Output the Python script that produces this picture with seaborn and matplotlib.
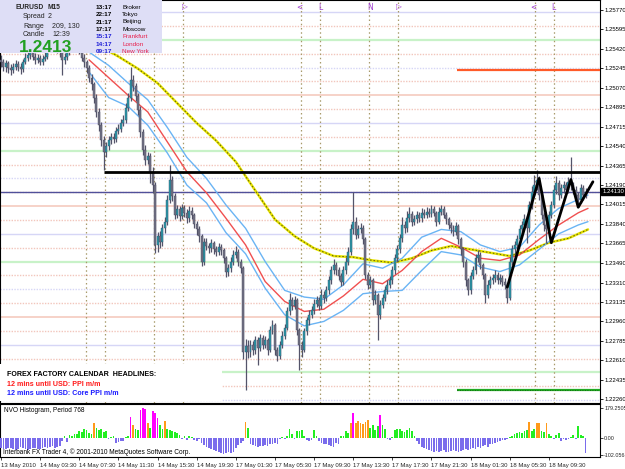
import numpy as np
import pandas as pd
import seaborn as sns
import matplotlib.pyplot as plt
from matplotlib import font_manager
from matplotlib.patches import Rectangle
from matplotlib.transforms import blended_transform_factory

# ---- price data (EURUSD M15, bar 0 = 13 May 23:30) ----
FIRST_OPEN = 1.2532
CLOSE = [
    1.2530, 1.2526, 1.2529, 1.2525, 1.2523, 1.2526, 1.2528, 1.2526, 1.2524, 1.2530, 1.2534, 1.2536, 1.2539, 1.2535, 1.2532, 1.2534,
    1.2530, 1.2533, 1.2535, 1.2541, 1.2545, 1.2546, 1.2544, 1.2541, 1.2539, 1.2532, 1.2535, 1.2539, 1.2543, 1.2545, 1.2546, 1.2544,
    1.2541, 1.2534, 1.2530, 1.2525, 1.2516, 1.2510, 1.2498, 1.2485, 1.2473, 1.2460, 1.2449, 1.2454, 1.2460, 1.2462, 1.2461, 1.2468,
    1.2470, 1.2475, 1.2478, 1.2489, 1.2498, 1.2514, 1.2508, 1.2499, 1.2487, 1.2467, 1.2451, 1.2442, 1.2445, 1.2431, 1.2419, 1.2365,
    1.2373, 1.2368, 1.2380, 1.2386, 1.2406, 1.2424, 1.2409, 1.2392, 1.2397, 1.2391, 1.2398, 1.2394, 1.2389, 1.2396, 1.2392, 1.2384,
    1.2379, 1.2373, 1.2350, 1.2368, 1.2364, 1.2362, 1.2367, 1.2361, 1.2359, 1.2363, 1.2360, 1.2353, 1.2341, 1.2344, 1.2350, 1.2356,
    1.2359, 1.2350, 1.2344, 1.2268, 1.2274, 1.2268, 1.2275, 1.2270, 1.2279, 1.2272, 1.2281, 1.2275, 1.2279, 1.2270, 1.2288, 1.2293,
    1.2270, 1.2265, 1.2275, 1.2283, 1.2290, 1.2305, 1.2315, 1.2310, 1.2315, 1.2288, 1.2275, 1.2270, 1.2287, 1.2297, 1.2302, 1.2306,
    1.2312, 1.2315, 1.2310, 1.2320, 1.2317, 1.2324, 1.2333, 1.2342, 1.2347, 1.2342, 1.2337, 1.2332, 1.2342, 1.2350, 1.2359, 1.2379,
    1.2386, 1.2374, 1.2379, 1.2380, 1.2370, 1.2338, 1.2329, 1.2333, 1.2315, 1.2320, 1.2302, 1.2311, 1.2317, 1.2324, 1.2329, 1.2333,
    1.2342, 1.2353, 1.2361, 1.2371, 1.2383, 1.2380, 1.2389, 1.2393, 1.2386, 1.2388, 1.2392, 1.2389, 1.2394, 1.2392, 1.2395, 1.2393,
    1.2397, 1.2394, 1.2386, 1.2395, 1.2397, 1.2392, 1.2388, 1.2383, 1.2380, 1.2377, 1.2382, 1.2370, 1.2361, 1.2350, 1.2333, 1.2324,
    1.2337, 1.2342, 1.2353, 1.2356, 1.2347, 1.2338, 1.2320, 1.2329, 1.2333, 1.2335, 1.2338, 1.2333, 1.2335, 1.2332, 1.2329, 1.2317,
    1.2350, 1.2361, 1.2365, 1.2370, 1.2379, 1.2383, 1.2388, 1.2380, 1.2401, 1.2413, 1.2419, 1.2424, 1.2410, 1.2392, 1.2383, 1.2379,
    1.2392, 1.2401, 1.2415, 1.2421, 1.2410, 1.2416, 1.2419, 1.2415, 1.2422, 1.2419, 1.2415, 1.2410, 1.2406, 1.2416, 1.2410, 1.2413,
]
HIGH = [
    1.2536, 1.2533, 1.2532, 1.2531, 1.2528, 1.2529, 1.2532, 1.2531, 1.2529, 1.2533, 1.2538, 1.2540, 1.2542, 1.2541, 1.2538, 1.2537,
    1.2536, 1.2536, 1.2539, 1.2544, 1.2548, 1.2550, 1.2549, 1.2546, 1.2544, 1.2541, 1.2538, 1.2542, 1.2546, 1.2549, 1.2550, 1.2548,
    1.2546, 1.2543, 1.2537, 1.2532, 1.2527, 1.2519, 1.2512, 1.2501, 1.2489, 1.2476, 1.2463, 1.2458, 1.2463, 1.2466, 1.2466, 1.2471,
    1.2474, 1.2479, 1.2482, 1.2493, 1.2502, 1.2526, 1.2518, 1.2511, 1.2502, 1.2490, 1.2470, 1.2455, 1.2449, 1.2448, 1.2435, 1.2422,
    1.2377, 1.2378, 1.2384, 1.2390, 1.2410, 1.2437, 1.2427, 1.2412, 1.2401, 1.2400, 1.2402, 1.2401, 1.2397, 1.2400, 1.2399, 1.2394,
    1.2387, 1.2382, 1.2375, 1.2371, 1.2371, 1.2367, 1.2370, 1.2369, 1.2364, 1.2367, 1.2366, 1.2362, 1.2355, 1.2348, 1.2354, 1.2360,
    1.2364, 1.2361, 1.2352, 1.2346, 1.2280, 1.2279, 1.2279, 1.2278, 1.2283, 1.2282, 1.2285, 1.2284, 1.2283, 1.2281, 1.2292, 1.2297,
    1.2295, 1.2273, 1.2278, 1.2287, 1.2294, 1.2309, 1.2322, 1.2318, 1.2319, 1.2317, 1.2290, 1.2278, 1.2290, 1.2300, 1.2306, 1.2310,
    1.2316, 1.2319, 1.2318, 1.2325, 1.2323, 1.2328, 1.2337, 1.2346, 1.2352, 1.2350, 1.2345, 1.2340, 1.2346, 1.2354, 1.2363, 1.2384,
    1.2413, 1.2390, 1.2383, 1.2385, 1.2383, 1.2372, 1.2341, 1.2337, 1.2335, 1.2324, 1.2322, 1.2315, 1.2321, 1.2328, 1.2333, 1.2337,
    1.2346, 1.2357, 1.2365, 1.2375, 1.2390, 1.2387, 1.2396, 1.2399, 1.2396, 1.2392, 1.2396, 1.2395, 1.2398, 1.2397, 1.2399, 1.2398,
    1.2401, 1.2400, 1.2396, 1.2399, 1.2401, 1.2400, 1.2395, 1.2390, 1.2386, 1.2383, 1.2386, 1.2384, 1.2372, 1.2363, 1.2352, 1.2335,
    1.2341, 1.2346, 1.2357, 1.2360, 1.2359, 1.2349, 1.2340, 1.2333, 1.2337, 1.2339, 1.2342, 1.2341, 1.2339, 1.2338, 1.2335, 1.2331,
    1.2354, 1.2365, 1.2369, 1.2374, 1.2383, 1.2387, 1.2393, 1.2391, 1.2405, 1.2418, 1.2428, 1.2433, 1.2427, 1.2413, 1.2395, 1.2386,
    1.2396, 1.2405, 1.2419, 1.2427, 1.2424, 1.2420, 1.2423, 1.2422, 1.2426, 1.2444, 1.2422, 1.2418, 1.2413, 1.2420, 1.2419, 1.2416,
]
LOW = [
    1.2526, 1.2522, 1.2521, 1.2520, 1.2518, 1.2520, 1.2523, 1.2522, 1.2519, 1.2521, 1.2528, 1.2531, 1.2533, 1.2532, 1.2528, 1.2529,
    1.2527, 1.2527, 1.2531, 1.2533, 1.2539, 1.2542, 1.2540, 1.2538, 1.2535, 1.2518, 1.2528, 1.2532, 1.2536, 1.2540, 1.2541, 1.2540,
    1.2537, 1.2531, 1.2526, 1.2520, 1.2512, 1.2505, 1.2493, 1.2480, 1.2468, 1.2454, 1.2433, 1.2444, 1.2451, 1.2456, 1.2457, 1.2458,
    1.2465, 1.2467, 1.2472, 1.2475, 1.2486, 1.2495, 1.2504, 1.2495, 1.2482, 1.2462, 1.2446, 1.2437, 1.2438, 1.2421, 1.2412, 1.2358,
    1.2359, 1.2362, 1.2364, 1.2376, 1.2383, 1.2403, 1.2405, 1.2388, 1.2389, 1.2387, 1.2388, 1.2390, 1.2385, 1.2386, 1.2388, 1.2380,
    1.2374, 1.2368, 1.2346, 1.2347, 1.2360, 1.2358, 1.2359, 1.2357, 1.2355, 1.2356, 1.2356, 1.2349, 1.2336, 1.2337, 1.2341, 1.2347,
    1.2353, 1.2346, 1.2340, 1.2262, 1.2234, 1.2263, 1.2264, 1.2266, 1.2267, 1.2257, 1.2269, 1.2271, 1.2272, 1.2266, 1.2268, 1.2285,
    1.2266, 1.2260, 1.2262, 1.2272, 1.2280, 1.2288, 1.2302, 1.2306, 1.2307, 1.2284, 1.2252, 1.2264, 1.2268, 1.2284, 1.2293, 1.2299,
    1.2303, 1.2309, 1.2306, 1.2307, 1.2313, 1.2314, 1.2321, 1.2330, 1.2339, 1.2338, 1.2333, 1.2328, 1.2329, 1.2339, 1.2347, 1.2356,
    1.2375, 1.2370, 1.2371, 1.2376, 1.2366, 1.2334, 1.2325, 1.2326, 1.2311, 1.2312, 1.2279, 1.2298, 1.2308, 1.2314, 1.2321, 1.2326,
    1.2330, 1.2339, 1.2350, 1.2358, 1.2368, 1.2376, 1.2377, 1.2386, 1.2382, 1.2383, 1.2385, 1.2386, 1.2386, 1.2389, 1.2389, 1.2390,
    1.2390, 1.2391, 1.2382, 1.2384, 1.2392, 1.2389, 1.2384, 1.2379, 1.2376, 1.2373, 1.2374, 1.2366, 1.2356, 1.2345, 1.2328, 1.2320,
    1.2321, 1.2334, 1.2339, 1.2350, 1.2343, 1.2334, 1.2313, 1.2317, 1.2326, 1.2330, 1.2332, 1.2330, 1.2330, 1.2328, 1.2325, 1.2313,
    1.2315, 1.2347, 1.2357, 1.2361, 1.2367, 1.2375, 1.2379, 1.2367, 1.2377, 1.2397, 1.2409, 1.2415, 1.2406, 1.2388, 1.2378, 1.2367,
    1.2376, 1.2389, 1.2398, 1.2411, 1.2406, 1.2407, 1.2412, 1.2411, 1.2412, 1.2415, 1.2411, 1.2406, 1.2399, 1.2403, 1.2406, 1.2407,
]

# NVO histogram, period 768
NVO = [
    -62, -66, -70, -64, -60, -68, -72, -66, -58, -62, -70, -74, -68, -60, -64, -70,
    -66, -60, -58, -64, -56, -52, -60, -55, -48, -20, 12, -25, 18, 10, 25, 20,
    40, 35, 55, 48, 30, 20, 87, 60, 45, 50, 35, 42, -8, 5, 10, -30,
    -28, -20, -22, 6, 10, 125, 78, 55, 45, 165, 180, 170, 90, 60, 160, 150,
    120, 75, 50, 100, 55, 48, 42, 35, 28, 15, -5, 8, -15, 10, 5, -12,
    -20, -8, -30, -45, -55, -62, -70, -75, -80, -86, -90, -95, -92, -88, -90, -84,
    -60, -45, -30, -20, 95, 60, -35, -42, -50, -55, -48, -52, -45, -50, -40, -35,
    -30, -38, -10, 6, -8, 12, 50, 22, -5, 38, 42, 48, 10, -15, -19, -12,
    44, 8, -22, -30, -35, -40, -45, -52, -58, -30, -40, 8, 12, 40, 30, 87,
    150, 87, 100, 90, 80, 95, 105, 60, 75, 45, 70, 135, 75, 50, -8, -12,
    6, 45, 50, 55, 40, 35, 45, 58, 42, 12, -20, -40, -55, -62, -70, -75,
    -80, -85, -78, -87, -82, -76, -84, -86, -80, -72, -78, -84, -80, -74, -70, -76,
    -68, -60, -65, -55, -62, -50, -45, -58, -40, -35, -30, -25, -18, -12, -15, -8,
    5, 12, 20, 28, 35, 30, 40, 45, 96, 40, 55, 87, 88, 40, 35, 87,
    20, 8, -10, 15, 28, -18, -5, -15, -10, 5, 18, -8, 70, 15, 8, -92,
]

# moving averages / envelopes read at every 8th bar
MA_BARS = [36, 44, 52, 60, 68, 76, 84, 92, 100, 108, 116, 124, 132, 140,
           148, 156, 164, 172, 180, 188, 196, 204, 212, 220, 228, 236, 240]
RED_MA = [1.2532, 1.2516, 1.2500, 1.2485, 1.2458, 1.2431, 1.2412, 1.2389, 1.2365, 1.2332, 1.2314, 1.2305, 1.2307, 1.2319,
          1.2334, 1.2330, 1.2342, 1.2359, 1.2371, 1.2363, 1.2353, 1.2351, 1.2356, 1.2370, 1.2383, 1.2394, 1.2398]
BLUE_UP = [1.2539, 1.2527, 1.2511, 1.2496, 1.2471, 1.2444, 1.2425, 1.2401, 1.2380, 1.2350, 1.2324, 1.2318, 1.2316, 1.2329,
           1.2348, 1.2344, 1.2353, 1.2372, 1.2379, 1.2377, 1.2365, 1.2359, 1.2363, 1.2383, 1.2398, 1.2406, 1.2410]
BLUE_DN = [1.2521, 1.2498, 1.2490, 1.2473, 1.2448, 1.2419, 1.2403, 1.2376, 1.2357, 1.2326, 1.2302, 1.2292, 1.2296, 1.2306,
           1.2321, 1.2323, 1.2324, 1.2342, 1.2359, 1.2356, 1.2345, 1.2341, 1.2347, 1.2361, 1.2375, 1.2383, 1.2386]
YEL_BARS = [40, 48, 56, 64, 72, 80, 88, 96, 104, 112, 120, 128, 136, 144,
            152, 160, 168, 176, 184, 192, 200, 208, 216, 224, 232, 240]
YEL_MA = [1.2545, 1.2535, 1.2524, 1.2511, 1.2493, 1.2475, 1.2459, 1.2440, 1.2414, 1.2388, 1.2373, 1.2362, 1.2355,
          1.2354, 1.2351, 1.2349, 1.2353, 1.2360, 1.2364, 1.2361, 1.2358, 1.2355, 1.2360, 1.2367, 1.2371, 1.2379]

# zigzag
ZZ_BARS = [207, 220, 225, 233, 236, 242]
ZZ_PRICE = [1.2327, 1.2425, 1.2367, 1.2424, 1.2399, 1.2422]

BID = 1.24130
HLINE_BLACK = 1.2431
HLINE_RED = 1.2523
HLINE_GREEN = 1.2234
OBJ_START = 186.5
VLINE_BARS = [34.75, 42.5, 62.5, 74.5, 122.75, 130.5, 150.5, 162.25, 218.25, 226.0]

PRICE_TICKS = [1.25770, 1.25595, 1.25420, 1.25245, 1.25070, 1.24895, 1.24715, 1.24540, 1.24365, 1.24190,
               1.24015, 1.23840, 1.23665, 1.23490, 1.23310, 1.23135, 1.22960, 1.22785, 1.22610, 1.22435, 1.22260]
TIME_LABELS = ["13 May 2010", "14 May 03:30", "14 May 07:30", "14 May 11:30", "14 May 15:30",
               "14 May 19:30", "17 May 01:30", "17 May 05:30", "17 May 09:30", "17 May 13:30",
               "17 May 17:30", "17 May 21:30", "18 May 01:30", "18 May 05:30", "18 May 09:30"]

sns.set_style("white")
names = {f.name for f in font_manager.fontManager.ttflist}
REG = "Liberation Sans" if "Liberation Sans" in names else "DejaVu Sans"
if "Liberation Sans Narrow" in names:
    SMALL, SMALL_SIZE = "Liberation Sans Narrow", 5.0
else:
    SMALL, SMALL_SIZE = REG, 4.3
plt.rcParams["font.family"] = [SMALL, "DejaVu Sans"]

W, H = 625, 469
fig = plt.figure(figsize=(W / 100, H / 100), dpi=100)
fig.patch.set_facecolor("white")


def fx(px):
    return px / W


def fy(py):
    return 1 - py / H


ax = fig.add_axes([0, fy(403), fx(600), 403 / H])
ax2 = fig.add_axes([0, fy(457), fx(600), 53 / H], sharex=ax)
ax.set_facecolor("white")
ax2.set_facecolor("white")

idx = np.arange(len(CLOSE))
close = np.array(CLOSE)
opens = np.concatenate([[FIRST_OPEN], close[:-1]])
high = np.array(HIGH)
low = np.array(LOW)

ax.set_xlim(-0.41, 244.9)
ax.set_ylim(1.22224, 1.25860)

# round-number levels
for k in range(29):
    lv = 1.2225 + 0.00125 * k
    frac = round((lv * 10000) % 100, 2)
    if abs(frac - 50) < 0.01:
        ax.axhline(lv, color="#c8f2c8", lw=1.6, zorder=1)
    elif frac < 0.01 or abs(frac - 100) < 0.01:
        ax.axhline(lv, color="#f6d2c8", lw=1.4, zorder=1)
    elif abs(frac - 75) < 0.01:
        ax.axhline(lv, color="#d6d6f6", lw=1.0, zorder=1)
    elif abs(frac - 25) < 0.01:
        ax.axhline(lv, color="#d6d6f6", lw=1.0, ls=(0, (1, 1)), zorder=1)
    else:
        ax.axhline(lv, color="#f2c6bc", lw=1.0, ls=(0, (1, 1)), zorder=1)

for vb in VLINE_BARS:
    ax.axvline(vb, color="#a89a6a", lw=0.9, ls=(0, (1.2, 2.2)), zorder=1.5)

# bid line
ax.axhline(BID, color="#50509a", lw=1.0, zorder=1.8)

# moving averages
sns.lineplot(x=YEL_BARS, y=YEL_MA, ax=ax, color="#e8e400", lw=1.8, zorder=2.5, legend=False)
ax.plot(YEL_BARS, YEL_MA, color="#5a5a10", lw=0.7, dashes=(1.6, 2.0), zorder=2.6)
sns.lineplot(x=MA_BARS, y=BLUE_UP, ax=ax, color="#6ab4f4", lw=1.0, zorder=2.5, legend=False)
sns.lineplot(x=MA_BARS, y=BLUE_DN, ax=ax, color="#6ab4f4", lw=1.0, zorder=2.5, legend=False)
sns.lineplot(x=MA_BARS, y=RED_MA, ax=ax, color="#f05050", lw=1.0, zorder=2.5, legend=False)

# candles
bull = close >= opens
ax.vlines(idx, low, high, color="#54546a", lw=0.9, zorder=3)
body_lo = np.minimum(opens, close)
body_h = np.maximum(np.abs(close - opens), 0.00005)
ax.bar(idx[bull], body_h[bull], bottom=body_lo[bull], width=0.8,
       color="#2a98a8", edgecolor="#38506a", lw=0.3, zorder=3.2)
ax.bar(idx[~bull], body_h[~bull], bottom=body_lo[~bull], width=0.8,
       color="#727284", edgecolor="#4a4a60", lw=0.3, zorder=3.2)

# objects
ax.hlines(HLINE_BLACK, 42, 245, color="black", lw=2.0, zorder=4)
ax.hlines(HLINE_RED, OBJ_START, 245, color="#ff5a28", lw=1.6, zorder=4)
ax.hlines(HLINE_GREEN, OBJ_START, 245, color="#22a822", lw=1.6, zorder=4)
ax.hlines(HLINE_GREEN, OBJ_START, 245, color="#0c600c", lw=0.6, ls=(0, (1, 2)), zorder=4.1)
sns.lineplot(x=ZZ_BARS, y=ZZ_PRICE, ax=ax, color="black", lw=2.0, zorder=4.5, legend=False, sort=False)

# calendar text box
ax.add_patch(Rectangle((0, (403 - 401) / 403), 222 / 600, 37 / 403, transform=ax.transAxes,
                       facecolor="white", edgecolor="none", zorder=5))
ax.set_xlabel("")
ax.set_ylabel("")

# price axis on the right
ax.yaxis.tick_right()
ax.set_yticks(PRICE_TICKS)
ax.set_yticklabels([f"{v:.5f}" for v in PRICE_TICKS])
ax.tick_params(axis="y", which="both", right=True, left=False, length=2.0, width=0.6,
               pad=1.2, labelsize=SMALL_SIZE, colors="black", direction="out")
ax.tick_params(axis="x", bottom=False, labelbottom=False)
for sp in ax.spines.values():
    sp.set_visible(True)
    sp.set_color("black")
    sp.set_linewidth(0.8)

trans = blended_transform_factory(ax.transAxes, ax.transData)
ax.text(1.004, BID, "1.24130", transform=trans, fontsize=SMALL_SIZE, color="white", va="center", ha="left",
        bbox=dict(boxstyle="square,pad=0.2", facecolor="black", edgecolor="black"), zorder=10, clip_on=False)

# histogram
hist_cols = ["#ff00ff" if v >= 120 else "#ff9a1a" if v >= 78 else "#22ee22" if v > 0 else "#7a6cec"
             for v in NVO]
ax2.bar(idx, NVO, width=0.7, color=hist_cols, lw=0, zorder=3)
ax2.set_ylim(-116, 202)
ax2.yaxis.tick_right()
ax2.set_yticks([179.2505, 0.0, -102.056])
ax2.set_yticklabels(["179.2505", "0.00", "-102.056"])
ax2.tick_params(axis="y", right=True, left=False, length=2.0, width=0.6, pad=1.0,
                labelsize=SMALL_SIZE - 0.4, direction="out")
ax2.set_xticks(idx[::16])
ax2.set_xticklabels(TIME_LABELS, ha="left")
ax2.tick_params(axis="x", bottom=True, length=2.5, width=0.6, pad=1.5, labelsize=SMALL_SIZE, direction="out")
for sp in ax2.spines.values():
    sp.set_visible(True)
    sp.set_color("black")
    sp.set_linewidth(0.8)
ax2.text(4 / 600, 1 - 6 / 53, "NVO Histogram, Period 768", transform=ax2.transAxes,
         fontsize=SMALL_SIZE + 0.4, va="center", ha="left", color="black")
ax2.text(3 / 600, 1 - 48 / 53, "Interbank FX Trader 4, \u00a9 2001-2010 MetaQuotes Software Corp.",
         transform=ax2.transAxes, fontsize=SMALL_SIZE + 0.4, va="center", ha="left", color="black", zorder=6)

# calendar headlines
fig.text(fx(7), fy(374), "FOREX FACTORY CALENDAR  HEADLINES:", fontsize=5.1, weight="bold",
         family=REG, va="center", color="black")
fig.text(fx(7), fy(384), "12 mins until USD: PPI m/m", fontsize=5.1, weight="bold",
         family=REG, va="center", color="#ff1a1a")
fig.text(fx(7), fy(393), "12 mins until USD: Core PPI m/m", fontsize=5.1, weight="bold",
         family=REG, va="center", color="#1a1aff")

# session markers along the top
for px, ch in [(185, "\u25b7"), (299, "<"), (320, "L"), (370, "N"), (399, "\u25b7"), (533, "<"), (553, "L")]:
    fig.text(fx(px), fy(7), ch, fontsize=5.5, color="#a040d0", ha="center", va="center",
             family=["DejaVu Sans"])

# info panel
fig.patches.append(Rectangle((0, fy(53)), fx(162), 53 / H, transform=fig.transFigure,
                             facecolor="#dedef6", edgecolor="none", zorder=1))
fig.text(fx(16), fy(7.5), "EURUSD", fontsize=4.8, weight="bold", family=REG, va="center", zorder=2)
fig.text(fx(47), fy(7.5), "M15", fontsize=4.8, weight="bold", family=REG, va="center", zorder=2)
for py, a, b, bx in [(17, "Spread", "2", 48), (26, "Range", "209, 130", 52), (35, "Candle", "12:39", 52)]:
    fig.text(fx(23), fy(py), a, fontsize=5.0, family=REG, va="center", zorder=2)
    fig.text(fx(bx), fy(py), b, fontsize=5.0, family=REG, va="center", zorder=2)
fig.text(fx(19), fy(47), "1.2413", fontsize=12.5, weight="bold", family=REG, color="#22a022",
         va="center", zorder=2)
clock_rows = [("13:17", "Broker", "black", "black"), ("22:17", "Tokyo", "black", "black"),
              ("21:17", "Beijing", "black", "black"), ("17:17", "Moscow", "black", "black"),
              ("15:17", "Frankfurt", "#2020d8", "#e8204c"), ("14:17", "London", "#2020d8", "#e8204c"),
              ("09:17", "New York", "#2020d8", "#e8204c")]
for k, (t, city, c1, c2) in enumerate(clock_rows):
    py = 7.3 + 7.35 * k
    fig.text(fx(112), fy(py), t, fontsize=4.6, family=REG, weight="bold", color=c1,
             ha="right", va="center", zorder=2)
    fig.text(fx(122), fy(py), city, fontsize=4.6, family=REG, color=c2, va="center", zorder=2)

fig.savefig("out.png", dpi=100)
